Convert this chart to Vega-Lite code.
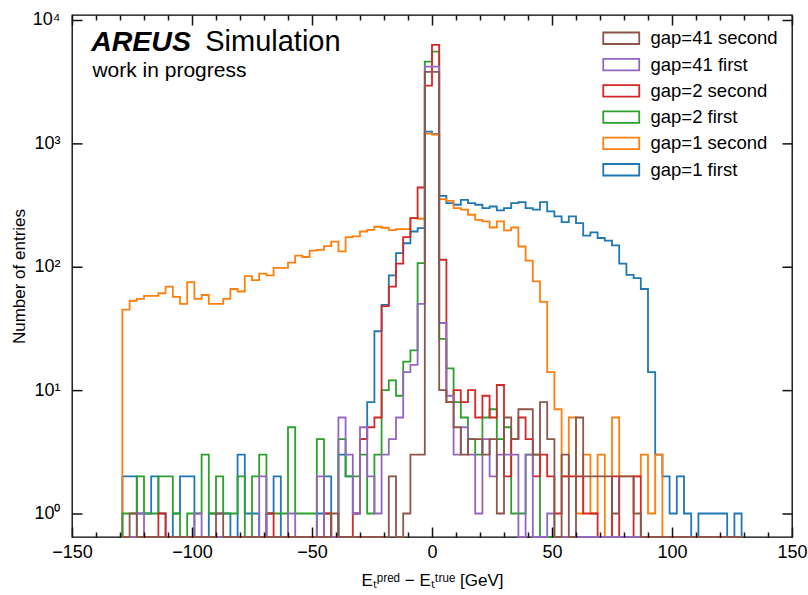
{
"$schema": "https://vega.github.io/schema/vega-lite/v6.json",
"width": 720, "height": 522,
"autosize": "none",
"padding": {"left": 72, "top": 15, "right": 16, "bottom": 58},
"background": "white",
"config": {"view": {"stroke": "black", "strokeWidth": 1.3}, "font": "Liberation Sans"},
"layer": [
{
"data": {"values": [
{"k":0,"x":-129,"gap=1 first":0,"gap=1 second":0,"gap=2 first":0,"gap=2 second":0,"gap=41 first":0,"gap=41 second":0},
{"k":1,"x":-129,"gap=1 first":2,"gap=1 second":45,"gap=2 first":1,"gap=2 second":0,"gap=41 first":0,"gap=41 second":0},
{"k":2,"x":-126,"gap=1 first":2,"gap=1 second":53,"gap=2 first":1,"gap=2 second":0,"gap=41 first":0,"gap=41 second":1},
{"k":3,"x":-123,"gap=1 first":1,"gap=1 second":55,"gap=2 first":2,"gap=2 second":0,"gap=41 first":1,"gap=41 second":0},
{"k":4,"x":-120,"gap=1 first":1,"gap=1 second":58,"gap=2 first":1,"gap=2 second":0,"gap=41 first":0,"gap=41 second":0},
{"k":5,"x":-117,"gap=1 first":2,"gap=1 second":58,"gap=2 first":1,"gap=2 second":0,"gap=41 first":0,"gap=41 second":0},
{"k":6,"x":-114,"gap=1 first":1,"gap=1 second":61,"gap=2 first":2,"gap=2 second":1,"gap=41 first":0,"gap=41 second":0},
{"k":7,"x":-111,"gap=1 first":0,"gap=1 second":69,"gap=2 first":2,"gap=2 second":0,"gap=41 first":0,"gap=41 second":0},
{"k":8,"x":-108,"gap=1 first":1,"gap=1 second":57,"gap=2 first":1,"gap=2 second":0,"gap=41 first":0,"gap=41 second":0},
{"k":9,"x":-105,"gap=1 first":2,"gap=1 second":50,"gap=2 first":0,"gap=2 second":0,"gap=41 first":0,"gap=41 second":0},
{"k":10,"x":-102,"gap=1 first":2,"gap=1 second":75,"gap=2 first":1,"gap=2 second":0,"gap=41 first":0,"gap=41 second":0},
{"k":11,"x":-99,"gap=1 first":0,"gap=1 second":55,"gap=2 first":1,"gap=2 second":0,"gap=41 first":1,"gap=41 second":0},
{"k":12,"x":-96,"gap=1 first":0,"gap=1 second":59,"gap=2 first":3,"gap=2 second":0,"gap=41 first":0,"gap=41 second":0},
{"k":13,"x":-93,"gap=1 first":1,"gap=1 second":50,"gap=2 first":1,"gap=2 second":0,"gap=41 first":0,"gap=41 second":0},
{"k":14,"x":-90,"gap=1 first":1,"gap=1 second":50,"gap=2 first":2,"gap=2 second":0,"gap=41 first":0,"gap=41 second":1},
{"k":15,"x":-87,"gap=1 first":1,"gap=1 second":55,"gap=2 first":1,"gap=2 second":0,"gap=41 first":0,"gap=41 second":0},
{"k":16,"x":-84,"gap=1 first":0,"gap=1 second":66,"gap=2 first":1,"gap=2 second":0,"gap=41 first":0,"gap=41 second":0},
{"k":17,"x":-81,"gap=1 first":3,"gap=1 second":63,"gap=2 first":2,"gap=2 second":0,"gap=41 first":0,"gap=41 second":0},
{"k":18,"x":-78,"gap=1 first":1,"gap=1 second":84,"gap=2 first":0,"gap=2 second":0,"gap=41 first":0,"gap=41 second":0},
{"k":19,"x":-75,"gap=1 first":1,"gap=1 second":78,"gap=2 first":2,"gap=2 second":0,"gap=41 first":0,"gap=41 second":0},
{"k":20,"x":-72,"gap=1 first":0,"gap=1 second":88,"gap=2 first":3,"gap=2 second":0,"gap=41 first":2,"gap=41 second":0},
{"k":21,"x":-69,"gap=1 first":1,"gap=1 second":85,"gap=2 first":1,"gap=2 second":1,"gap=41 first":0,"gap=41 second":0},
{"k":22,"x":-66,"gap=1 first":2,"gap=1 second":98,"gap=2 first":1,"gap=2 second":0,"gap=41 first":0,"gap=41 second":0},
{"k":23,"x":-63,"gap=1 first":0,"gap=1 second":98,"gap=2 first":1,"gap=2 second":0,"gap=41 first":0,"gap=41 second":0},
{"k":24,"x":-60,"gap=1 first":0,"gap=1 second":108,"gap=2 first":5,"gap=2 second":0,"gap=41 first":1,"gap=41 second":0},
{"k":25,"x":-57,"gap=1 first":0,"gap=1 second":123,"gap=2 first":1,"gap=2 second":0,"gap=41 first":0,"gap=41 second":0},
{"k":26,"x":-54,"gap=1 first":0,"gap=1 second":120,"gap=2 first":1,"gap=2 second":0,"gap=41 first":0,"gap=41 second":0},
{"k":27,"x":-51,"gap=1 first":0,"gap=1 second":135,"gap=2 first":1,"gap=2 second":0,"gap=41 first":0,"gap=41 second":0},
{"k":28,"x":-48,"gap=1 first":1,"gap=1 second":137,"gap=2 first":4,"gap=2 second":0,"gap=41 first":2,"gap=41 second":0},
{"k":29,"x":-45,"gap=1 first":2,"gap=1 second":147,"gap=2 first":1,"gap=2 second":1,"gap=41 first":0,"gap=41 second":0},
{"k":30,"x":-42,"gap=1 first":0,"gap=1 second":160,"gap=2 first":0,"gap=2 second":0,"gap=41 first":0,"gap=41 second":1},
{"k":31,"x":-39,"gap=1 first":3,"gap=1 second":133,"gap=2 first":4,"gap=2 second":0,"gap=41 first":6,"gap=41 second":0},
{"k":32,"x":-36,"gap=1 first":2,"gap=1 second":174,"gap=2 first":2,"gap=2 second":0,"gap=41 first":3,"gap=41 second":0},
{"k":33,"x":-33,"gap=1 first":1,"gap=1 second":176,"gap=2 first":2,"gap=2 second":1,"gap=41 first":1,"gap=41 second":0},
{"k":34,"x":-30,"gap=1 first":4,"gap=1 second":193,"gap=2 first":3,"gap=2 second":4,"gap=41 first":5,"gap=41 second":0},
{"k":35,"x":-27,"gap=1 first":8,"gap=1 second":199,"gap=2 first":1,"gap=2 second":5,"gap=41 first":2,"gap=41 second":0},
{"k":36,"x":-24,"gap=1 first":30,"gap=1 second":211,"gap=2 first":3,"gap=2 second":6,"gap=41 first":1,"gap=41 second":0},
{"k":37,"x":-21,"gap=1 first":49,"gap=1 second":207,"gap=2 first":10,"gap=2 second":48,"gap=41 first":3,"gap=41 second":0},
{"k":38,"x":-18,"gap=1 first":85,"gap=1 second":198,"gap=2 first":12,"gap=2 second":69,"gap=41 first":4,"gap=41 second":2},
{"k":39,"x":-15,"gap=1 first":129,"gap=1 second":202,"gap=2 first":9,"gap=2 second":106,"gap=41 first":6,"gap=41 second":0},
{"k":40,"x":-12,"gap=1 first":155,"gap=1 second":202,"gap=2 first":17,"gap=2 second":174,"gap=41 first":14,"gap=41 second":1},
{"k":41,"x":-9,"gap=1 first":193,"gap=1 second":249,"gap=2 first":21,"gap=2 second":248,"gap=41 first":16,"gap=41 second":3},
{"k":42,"x":-6,"gap=1 first":206,"gap=1 second":245,"gap=2 first":107,"gap=2 second":439,"gap=41 first":50,"gap=41 second":3},
{"k":43,"x":-3,"gap=1 first":1247,"gap=1 second":1200,"gap=2 first":4594,"gap=2 second":2939,"gap=41 first":4190,"gap=41 second":3800},
{"k":44,"x":0,"gap=1 first":1194,"gap=1 second":1180,"gap=2 first":5537,"gap=2 second":6281,"gap=41 first":4190,"gap=41 second":3800},
{"k":45,"x":3,"gap=1 first":376,"gap=1 second":353,"gap=2 first":26,"gap=2 second":114,"gap=41 first":35,"gap=41 second":10},
{"k":46,"x":6,"gap=1 first":328,"gap=1 second":342,"gap=2 first":15,"gap=2 second":8,"gap=41 first":9,"gap=41 second":8},
{"k":47,"x":9,"gap=1 first":318,"gap=1 second":299,"gap=2 first":8,"gap=2 second":10,"gap=41 first":3,"gap=41 second":5},
{"k":48,"x":12,"gap=1 first":349,"gap=1 second":290,"gap=2 first":6,"gap=2 second":8,"gap=41 first":5,"gap=41 second":3},
{"k":49,"x":15,"gap=1 first":328,"gap=1 second":264,"gap=2 first":4,"gap=2 second":10,"gap=41 first":3,"gap=41 second":4},
{"k":50,"x":18,"gap=1 first":318,"gap=1 second":240,"gap=2 first":3,"gap=2 second":6,"gap=41 first":1,"gap=41 second":4},
{"k":51,"x":21,"gap=1 first":299,"gap=1 second":233,"gap=2 first":6,"gap=2 second":9,"gap=41 first":4,"gap=41 second":3},
{"k":52,"x":24,"gap=1 first":308,"gap=1 second":208,"gap=2 first":7,"gap=2 second":6,"gap=41 first":2,"gap=41 second":4},
{"k":53,"x":27,"gap=1 first":286,"gap=1 second":233,"gap=2 first":4,"gap=2 second":11,"gap=41 first":3,"gap=41 second":1},
{"k":54,"x":30,"gap=1 first":299,"gap=1 second":197,"gap=2 first":5,"gap=2 second":2,"gap=41 first":3,"gap=41 second":6},
{"k":55,"x":33,"gap=1 first":328,"gap=1 second":208,"gap=2 first":1,"gap=2 second":4,"gap=41 first":3,"gap=41 second":4},
{"k":56,"x":36,"gap=1 first":334,"gap=1 second":146,"gap=2 first":1,"gap=2 second":6,"gap=41 first":0,"gap=41 second":7},
{"k":57,"x":39,"gap=1 first":299,"gap=1 second":112,"gap=2 first":3,"gap=2 second":4,"gap=41 first":3,"gap=41 second":7},
{"k":58,"x":42,"gap=1 first":290,"gap=1 second":76,"gap=2 first":3,"gap=2 second":2,"gap=41 first":0,"gap=41 second":3},
{"k":59,"x":45,"gap=1 first":334,"gap=1 second":52,"gap=2 first":0,"gap=2 second":3,"gap=41 first":0,"gap=41 second":8},
{"k":60,"x":48,"gap=1 first":281,"gap=1 second":14,"gap=2 first":0,"gap=2 second":2,"gap=41 first":1,"gap=41 second":4},
{"k":61,"x":51,"gap=1 first":256,"gap=1 second":7,"gap=2 first":0,"gap=2 second":1,"gap=41 first":0,"gap=41 second":0},
{"k":62,"x":54,"gap=1 first":230,"gap=1 second":2,"gap=2 first":0,"gap=2 second":2,"gap=41 first":0,"gap=41 second":3},
{"k":63,"x":57,"gap=1 first":256,"gap=1 second":6,"gap=2 first":0,"gap=2 second":2,"gap=41 first":0,"gap=41 second":0},
{"k":64,"x":60,"gap=1 first":226,"gap=1 second":1,"gap=2 first":0,"gap=2 second":2,"gap=41 first":0,"gap=41 second":6},
{"k":65,"x":63,"gap=1 first":179,"gap=1 second":3,"gap=2 first":0,"gap=2 second":1,"gap=41 first":0,"gap=41 second":2},
{"k":66,"x":66,"gap=1 first":190,"gap=1 second":1,"gap=2 first":0,"gap=2 second":1,"gap=41 first":0,"gap=41 second":2},
{"k":67,"x":69,"gap=1 first":171,"gap=1 second":3,"gap=2 first":0,"gap=2 second":0,"gap=41 first":0,"gap=41 second":2},
{"k":68,"x":72,"gap=1 first":163,"gap=1 second":0,"gap=2 first":0,"gap=2 second":0,"gap=41 first":0,"gap=41 second":2},
{"k":69,"x":75,"gap=1 first":149,"gap=1 second":6,"gap=2 first":0,"gap=2 second":2,"gap=41 first":0,"gap=41 second":1},
{"k":70,"x":78,"gap=1 first":106,"gap=1 second":2,"gap=2 first":0,"gap=2 second":0,"gap=41 first":0,"gap=41 second":2},
{"k":71,"x":81,"gap=1 first":86,"gap=1 second":2,"gap=2 first":0,"gap=2 second":0,"gap=41 first":0,"gap=41 second":2},
{"k":72,"x":84,"gap=1 first":81,"gap=1 second":2,"gap=2 first":0,"gap=2 second":2,"gap=41 first":0,"gap=41 second":1},
{"k":73,"x":87,"gap=1 first":66,"gap=1 second":3,"gap=2 first":0,"gap=2 second":0,"gap=41 first":0,"gap=41 second":0},
{"k":74,"x":90,"gap=1 first":14,"gap=1 second":1,"gap=2 first":0,"gap=2 second":0,"gap=41 first":0,"gap=41 second":0},
{"k":75,"x":93,"gap=1 first":3,"gap=1 second":3,"gap=2 first":0,"gap=2 second":0,"gap=41 first":0,"gap=41 second":0},
{"k":76,"x":96,"gap=1 first":2,"gap=1 second":0,"gap=2 first":0,"gap=2 second":0,"gap=41 first":0,"gap=41 second":0},
{"k":77,"x":99,"gap=1 first":1,"gap=1 second":0,"gap=2 first":0,"gap=2 second":0,"gap=41 first":0,"gap=41 second":0},
{"k":78,"x":102,"gap=1 first":2,"gap=1 second":0,"gap=2 first":0,"gap=2 second":0,"gap=41 first":0,"gap=41 second":0},
{"k":79,"x":105,"gap=1 first":1,"gap=1 second":0,"gap=2 first":0,"gap=2 second":0,"gap=41 first":0,"gap=41 second":0},
{"k":80,"x":108,"gap=1 first":0,"gap=1 second":0,"gap=2 first":0,"gap=2 second":0,"gap=41 first":0,"gap=41 second":0},
{"k":81,"x":111,"gap=1 first":1,"gap=1 second":0,"gap=2 first":0,"gap=2 second":0,"gap=41 first":0,"gap=41 second":0},
{"k":82,"x":114,"gap=1 first":1,"gap=1 second":0,"gap=2 first":0,"gap=2 second":0,"gap=41 first":0,"gap=41 second":0},
{"k":83,"x":117,"gap=1 first":1,"gap=1 second":0,"gap=2 first":0,"gap=2 second":0,"gap=41 first":0,"gap=41 second":0},
{"k":84,"x":120,"gap=1 first":1,"gap=1 second":0,"gap=2 first":0,"gap=2 second":0,"gap=41 first":0,"gap=41 second":0},
{"k":85,"x":123,"gap=1 first":0,"gap=1 second":0,"gap=2 first":0,"gap=2 second":0,"gap=41 first":0,"gap=41 second":0},
{"k":86,"x":126,"gap=1 first":1,"gap=1 second":0,"gap=2 first":0,"gap=2 second":0,"gap=41 first":0,"gap=41 second":0},
{"k":87,"x":129,"gap=1 first":0,"gap=1 second":0,"gap=2 first":0,"gap=2 second":0,"gap=41 first":0,"gap=41 second":0}
]},
"transform": [{"fold": ["gap=1 first","gap=1 second","gap=2 first","gap=2 second","gap=41 first","gap=41 second"], "as": ["series","n"]}],
"mark": {"type": "line", "interpolate": "step-after", "strokeWidth": 1.8, "strokeJoin": "miter", "strokeCap": "butt"},
"encoding": {
"x": {"field": "x", "type": "quantitative", "scale": {"domain": [-150,150], "nice": false, "zero": false},
 "axis": {"orient": "bottom", "offset": -10, "zindex": 2, "values": [-150,-100,-50,0,50,100,150],
  "tickSize": 10, "tickColor": "#111111", "tickWidth": 1.5, "tickRound": false, "domain": false, "grid": false,
  "labelFontSize": 18, "labelColor": "black", "labelPadding": 6, "labelOverlap": false, "labelFlush": false,
  "title": "Eₜᵖʳᵉᵈ − Eₜᵗʳᵘᵉ [GeV]", "titleFontSize": 17, "titleFontWeight": "normal", "titleColor": "black", "titlePadding": 11}},
"y": {"field": "n", "type": "quantitative", "scale": {"type": "log", "domain": [0.645, 10978], "nice": false, "clamp": true},
 "axis": {"orient": "left", "offset": -10, "zindex": 2, "values": [1,10,100,1000,10000],
  "labelExpr": "datum.value == 1 ? '10⁰' : datum.value == 10 ? '10¹' : datum.value == 100 ? '10²' : datum.value == 1000 ? '10³' : '10⁴'",
  "tickSize": 10, "tickColor": "#111111", "tickWidth": 1.5, "tickRound": false, "domain": false, "grid": false,
  "labelFontSize": 18, "labelColor": "black", "labelPadding": 12, "labelOverlap": false, "labelFlush": false,
  "title": "Number of entries", "titleFontSize": 17, "titleFontWeight": "normal", "titleColor": "black", "titlePadding": 4}},
"color": {"field": "series", "type": "nominal",
 "scale": {"domain": ["gap=41 second","gap=41 first","gap=2 second","gap=2 first","gap=1 second","gap=1 first"], "range": ["#8c564b","#9467bd","#d62728","#2ca02c","#ff7f0e","#1f77b4"]},
 "legend": {"orient": "top-right", "offset": 14, "padding": 0, "title": null, "labelFontSize": 18.5, "labelColor": "black",
  "symbolType": "M-2.5,-0.8H2.5V0.8H-2.5Z", "symbolSize": 207, "symbolStrokeWidth": 1.8, "symbolFillColor": "transparent",
  "symbolOffset": 9, "labelOffset": 20, "rowPadding": 6.3}},
"order": {"field": "k", "type": "quantitative"}
}
},
{
"data": {"values": [{}]},
"mark": {"type": "text", "text": "AREUS", "fontSize": 28.5, "fontWeight": "bold", "fontStyle": "italic", "align": "left", "baseline": "alphabetic", "color": "black"},
"encoding": {
"x": {"datum": -142, "type": "quantitative", "scale": {"domain": [-150,150], "nice": false, "zero": false},
 "axis": {"orient": "top", "offset": -10, "zindex": 2, "values": [-150,-100,-50,0,50,100,150],
  "labels": false, "tickSize": 10, "tickColor": "#111111", "tickWidth": 1.5, "tickRound": false, "domain": false, "grid": false, "title": null}},
"y": {"datum": 5600, "type": "quantitative", "scale": {"type": "log", "domain": [0.645, 10978], "nice": false, "clamp": true},
 "axis": {"orient": "right", "offset": -10, "zindex": 2, "values": [1,10,100,1000,10000], "labels": false, "tickSize": 10, "tickColor": "#111111", "tickWidth": 1.5, "tickRound": false, "domain": false, "grid": false, "title": null}}
}
},
{
"data": {"values": [{}]},
"mark": {"type": "text", "text": "Simulation", "fontSize": 29, "align": "left", "baseline": "alphabetic", "color": "black"},
"encoding": {
"x": {"datum": -94.5, "type": "quantitative", "scale": {"domain": [-150,150], "nice": false, "zero": false},
 "axis": {"orient": "bottom", "offset": -5, "zindex": 2, "values": [-140,-130,-120,-110,-90,-80,-70,-60,-40,-30,-20,-10,10,20,30,40,60,70,80,90,110,120,130,140],
  "labels": false, "tickSize": 5, "tickColor": "#111111", "tickWidth": 1.5, "tickRound": false, "domain": false, "grid": false, "title": null}},
"y": {"datum": 5600, "type": "quantitative", "scale": {"type": "log", "domain": [0.645, 10978], "nice": false, "clamp": true}, "axis": null}
}
},
{
"data": {"values": [{}]},
"mark": {"type": "text", "text": "work in progress", "fontSize": 21, "align": "left", "baseline": "alphabetic", "color": "black"},
"encoding": {
"x": {"datum": -141.5, "type": "quantitative", "scale": {"domain": [-150,150], "nice": false, "zero": false},
 "axis": {"orient": "top", "offset": -5, "zindex": 2, "values": [-140,-130,-120,-110,-90,-80,-70,-60,-40,-30,-20,-10,10,20,30,40,60,70,80,90,110,120,130,140],
  "labels": false, "tickSize": 5, "tickColor": "#111111", "tickWidth": 1.5, "tickRound": false, "domain": false, "grid": false, "title": null}},
"y": {"datum": 3420, "type": "quantitative", "scale": {"type": "log", "domain": [0.645, 10978], "nice": false, "clamp": true}, "axis": null}
}
}
],
"resolve": {"axis": {"x": "independent", "y": "independent"}}
}
